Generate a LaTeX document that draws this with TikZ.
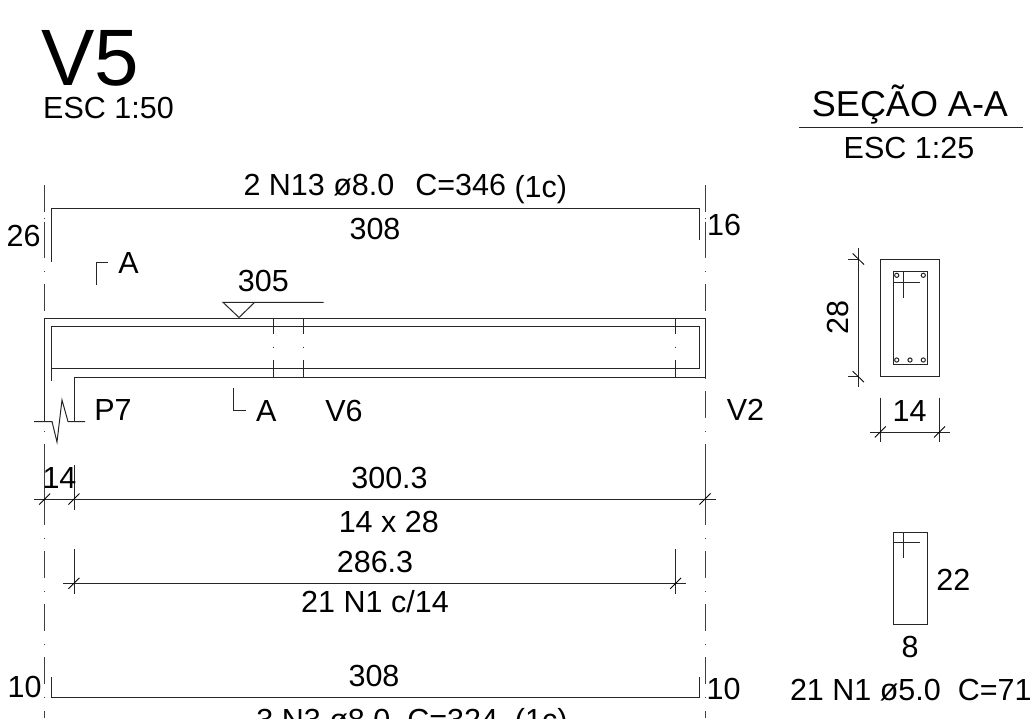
\documentclass[tikz,border=0pt]{standalone}
\usepackage{fontspec}
\setmainfont{Liberation Sans}
\usetikzlibrary{calc}

\tikzset{
    drawing/.style={x=1pt, y=-1pt, line width=1pt, black!85},
    axisline/.style={line width=1pt, black!75, dash pattern=on 27pt off 13pt on 1pt off 12.3pt},
    dimtext/.style={inner sep=0pt, anchor=base, text=black, font=\fontsize{30.5}{30.5}\selectfont},
    tick/.style={line width=0.8pt, black}
}
\newcommand{\slashtick}[1]{\draw[tick] ($(#1)+(-5.5,5.5)$) -- ($(#1)+(5.5,-5.5)$);}

\begin{document}
\begin{tikzpicture}[drawing]
    \useasboundingbox (0,0) rectangle (1034,718);

    % titles
    \node[dimtext, font=\fontsize{80}{80}\selectfont] (titleV) at (90.5,85) {V5};
    \node[dimtext] (scaleV) at (108.5,118) {ESC 1:50};
    \node[dimtext, font=\fontsize{36}{36}\selectfont] (titleA) at (910,116) {SEÇÃO A-A};
    \node[dimtext] (scaleA) at (909,158) {ESC 1:25};
    \draw (799,127) -- (1023,127);

    % axes
    \foreach \xa in {44.7,705} {
        \draw[axisline] (\xa,231) -- (\xa,718);
        \draw[axisline, dash pattern=on 27pt off 5.5pt on 1pt off 3.5pt on 100pt] (\xa,185) -- (\xa,231);
        \draw[axisline, dash pattern=on 100pt] (\xa,465) -- (\xa,510);
    }

    % top bar
    \draw (51,262) -- (51,208) -- (699,208) -- (699,240);
    \node[dimtext, anchor=base west] (topbar) at (243,195) {2 N13 ø8.0~~\hspace{4pt}C=346};
    \node[dimtext, anchor=base west] (topbarc) at (514,197) {(1c)};
    \node[dimtext] (toplen) at (375,239.3) {308};
    \node[dimtext] (hookl) at (23.7,246.5) {26};
    \node[dimtext] (hookr) at (724,235) {16};

    % section marks
    \draw (96,285) -- (96,262.3) -- (108,262.3);
    \node[dimtext] (markA) at (128.5,273.3) {A};
    \draw (233.7,388) -- (233.7,410) -- (245.5,410);
    \node[dimtext] (markB) at (266.3,421.7) {A};

    % level
    \draw (323.7,302.3) -- (223,302.3) -- (239,317.5) -- (254.7,302.3);
    \node[dimtext] (level) at (263.3,291.7) {305};

    % beam
    \draw (44.7,421.5) -- (44.7,318) -- (705,318) -- (705,377) -- (74,377) -- (74,421.5);
    \draw (51,381) -- (51,326) -- (699,326) -- (699,368.5) -- (51,368.5);
    \foreach \xb in {273.7,303.3,675.7} {
        \draw (\xb,318) -- (\xb,334);
        \draw (\xb,346.5) -- (\xb,347.5);
        \draw (\xb,360) -- (\xb,377);
    }
    \draw (34,421.5) -- (52,421.5) -- (57,442) -- (62,400) -- (68,421.5) -- (85,421.5);
    \node[dimtext] (P7) at (113,420.7) {P7};
    \node[dimtext] (V6) at (344,421.7) {V6};
    \node[dimtext] (V2) at (745.5,420.7) {V2};

    % dimensions
    \coordinate (d1) at (44.7,499);
    \coordinate (d2) at (74,499);
    \coordinate (d3) at (705,499);
    \coordinate (d4) at (74,583.3);
    \coordinate (d5) at (675.7,583.3);
    \draw (34,499) -- (716,499);
    \draw (74,465) -- (74,510);
    \slashtick{d1} \slashtick{d2} \slashtick{d3}
    \draw (63,583.3) -- (686,583.3);
    \draw (74,549) -- (74,594);
    \draw (675.7,549) -- (675.7,594);
    \slashtick{d4} \slashtick{d5}
    \node[dimtext] (dim14) at (59.5,488.3) {14};
    \node[dimtext] (dimfull) at (389.5,488.3) {300.3};
    \node[dimtext] (dimsec) at (388.8,532) {14 x 28};
    \node[dimtext] (dimstir) at (375,572.7) {286.3};
    \node[dimtext] (stirtxt) at (375,612.7) {21 N1 c/14};

    % bottom bar
    \draw (51,677) -- (51,697.7) -- (699,697.7) -- (699,677);
    \node[dimtext] (botlen) at (374,686.7) {308};
    \node[dimtext] (botl) at (24.7,697.7) {10};
    \node[dimtext] (botr) at (723.5,699) {10};
    \node[dimtext, anchor=base east] (bottxt) at (568,730) {3 N3 ø8.0~~C=324~~(1c)};

    % section
    \draw (880.3,259) rectangle (939.5,376.7);
    \draw (893.3,271.3) rectangle (927.3,364.3);
    \draw (903.7,271.3) -- (903.7,298.3);
    \draw (893.3,282.3) -- (920,282.3);
    \foreach \xc/\yc in {896.7/275.3,923.3/275.3,896.7/360,910/360,923.3/360}
        \draw (\xc,\yc) circle (2.1);
    \draw (858.3,248.3) -- (858.3,387.3);
    \draw (847.7,259) -- (858.3,259);
    \draw (847.7,376.7) -- (858.3,376.7);
    \draw[tick] (852.7,253.5) -- (864,264.5);
    \draw[tick] (852.7,371.2) -- (864,382.2);
    \node[dimtext, rotate=90] (dimh) at (848,317.5) {28};
    \coordinate (d6) at (880.3,432);
    \coordinate (d7) at (939.5,432);
    \draw (870,432) -- (950,432);
    \draw (880.3,397.7) -- (880.3,442);
    \draw (939.5,397.7) -- (939.5,442);
    \slashtick{d6} \slashtick{d7}
    \node[dimtext] (dimb) at (909.5,421.7) {14};

    % stirrup
    \draw (893.3,532) rectangle (927.3,624.3);
    \draw (903.7,532) -- (903.7,558.3);
    \draw (893.3,542.3) -- (920,542.3);
    \node[dimtext] (stirh) at (953.3,590) {22};
    \node[dimtext] (stirb) at (910,657.7) {8};
    \node[dimtext] (stirname) at (910.8,700.7) {21 N1 ø5.0~~C=71};
\end{tikzpicture}
\end{document}
